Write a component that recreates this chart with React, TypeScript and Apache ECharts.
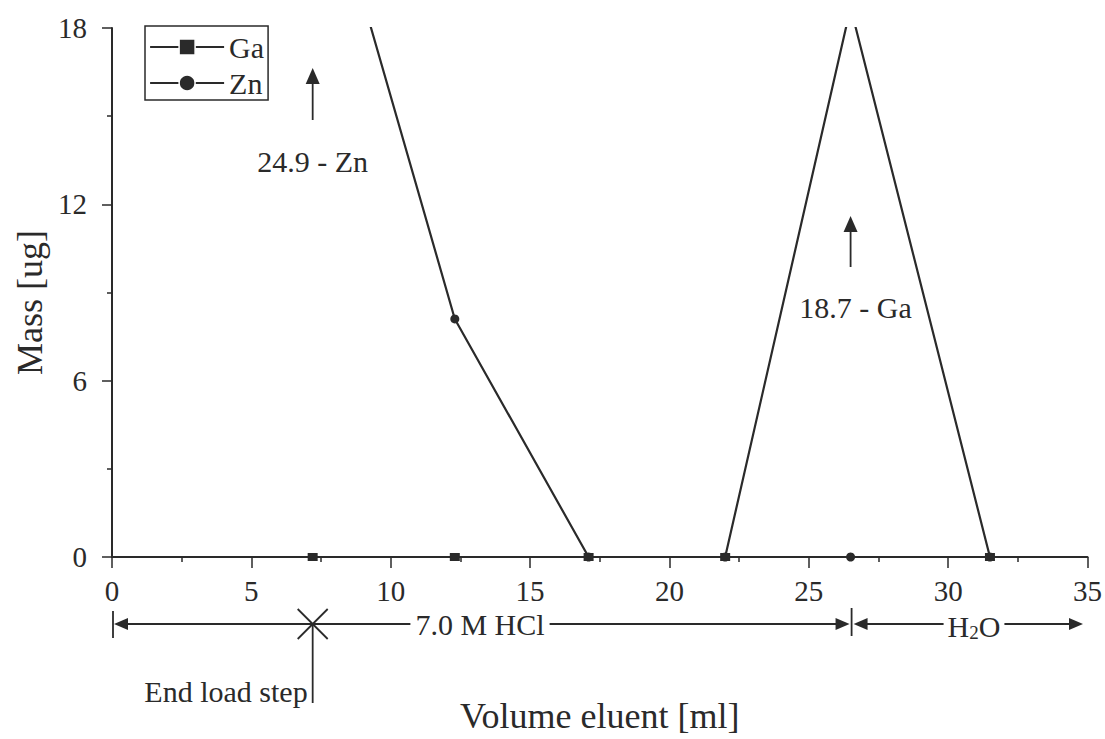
import React, { useEffect, useRef } from 'react';
import * as echarts from 'echarts';

// ---- data ----
const VOLUME_ML = [7.2, 12.3, 17.1, 22.0, 26.5, 31.5];
const GA_MASS = [0, 0, 0, 0, 18.7, 0];
const ZN_MASS = [24.9, 8.1, 0, 0, 0, 0];
const SERIES_NAMES = ['Ga', 'Zn'];

const X_MIN = 0;
const X_MAX = 35;
const X_STEP = 5;
const Y_MIN = 0;
const Y_MAX = 18;
const Y_STEP = 6;

const LOAD_END_ML = 7.2;
const HCL_END_ML = 26.5;
const ZN_PEAK_LABEL = '24.9 - Zn';
const GA_PEAK_LABEL = '18.7 - Ga';
const ZN_PEAK_X = 7.2;
const GA_PEAK_X = 26.5;

const INK = '#2a2a2a';
const FONT = '"Liberation Serif", "Times New Roman", Times, serif';

export default function App() {
  const ref = useRef<HTMLDivElement>(null);

  useEffect(() => {
    if (!ref.current) return;
    const chart = echarts.init(ref.current, undefined, { renderer: 'svg' });

    const option: any = {
      animation: false,
      backgroundColor: '#ffffff',
      grid: { left: 112, right: 16, top: 28, bottom: 178, containLabel: false },
      legend: {
        show: true,
        orient: 'vertical',
        left: 145,
        top: 26,
        data: SERIES_NAMES,
        itemWidth: 74,
        itemHeight: 20,
        itemGap: 6,
        padding: [6, 4, 2, 4],
        borderColor: INK,
        borderWidth: 1.5,
        backgroundColor: '#ffffff',
        lineStyle: { width: 2.2, color: INK },
        itemStyle: { color: INK, borderColor: '#ffffff', borderWidth: 1.5 },
        textStyle: { fontFamily: FONT, fontSize: 30, color: INK },
      },
      xAxis: {
        type: 'value',
        min: X_MIN,
        max: X_MAX,
        interval: X_STEP,
        name: 'Volume eluent [ml]',
        nameLocation: 'middle',
        nameGap: 141,
        nameTextStyle: { fontFamily: FONT, fontSize: 36, color: INK },
        axisLine: { show: true, onZero: false, lineStyle: { color: INK, width: 2 } },
        axisTick: { show: true, length: 11, lineStyle: { color: INK, width: 1.5 } },
        minorTick: { show: true, splitNumber: 2, length: 5, lineStyle: { color: INK, width: 1.5 } },
        axisLabel: { fontFamily: FONT, fontSize: 29, color: INK, margin: 19 },
        splitLine: { show: false },
      },
      yAxis: {
        type: 'value',
        min: Y_MIN,
        max: Y_MAX,
        interval: Y_STEP,
        axisLine: { show: true, onZero: false, lineStyle: { color: INK, width: 2 } },
        axisTick: { show: true, length: 10, lineStyle: { color: INK, width: 1.5 } },
        minorTick: { show: true, splitNumber: 2, length: 5, lineStyle: { color: INK, width: 1.5 } },
        axisLabel: { fontFamily: FONT, fontSize: 29, color: INK, margin: 25 },
        splitLine: { show: false },
      },
      series: [
        {
          type: 'line',
          name: SERIES_NAMES[0],
          data: VOLUME_ML.map((x, i) => [x, GA_MASS[i]]),
          symbol: 'rect',
          symbolSize: [10, 8],
          showAllSymbol: true,
          clip: true,
          lineStyle: { color: INK, width: 2.2 },
          itemStyle: { color: INK },
          z: 3,
        },
        {
          type: 'line',
          name: SERIES_NAMES[1],
          data: VOLUME_ML.map((x, i) => [x, ZN_MASS[i]]),
          symbol: 'circle',
          symbolSize: 9,
          showAllSymbol: true,
          clip: true,
          lineStyle: { color: INK, width: 2.2 },
          itemStyle: { color: INK },
          z: 2,
        },
      ],
    };
    chart.setOption(option);

    const px = (x: number, y: number) =>
      chart.convertToPixel({ xAxisIndex: 0, yAxisIndex: 0 }, [x, y]) as number[];
    const [x0, axisY] = px(X_MIN, Y_MIN);
    const yTop = px(X_MIN, Y_MAX)[1];
    const xLoad = px(LOAD_END_ML, 0)[0];
    const xHcl = px(HCL_END_ML, 0)[0];
    const xZn = px(ZN_PEAK_X, 0)[0];
    const xGa = px(GA_PEAK_X, 0)[0];
    const bandY = axisY + 67;
    const lineStyle = { stroke: INK, lineWidth: 1.8 };
    const headStyle = { fill: INK };

    const upArrow = (cx: number, tip: number, bottom: number) => [
      { type: 'line', shape: { x1: cx, y1: bottom, x2: cx, y2: tip + 12 }, style: lineStyle },
      { type: 'polygon', shape: { points: [[cx, tip], [cx - 7, tip + 16], [cx + 7, tip + 16]] }, style: headStyle },
    ];
    const headRight = (tx: number, y: number) => ({
      type: 'polygon', shape: { points: [[tx, y], [tx - 14, y - 6], [tx - 14, y + 6]] }, style: headStyle,
    });
    const headLeft = (tx: number, y: number) => ({
      type: 'polygon', shape: { points: [[tx, y], [tx + 14, y - 6], [tx + 14, y + 6]] }, style: headStyle,
    });
    const txt = (x: number, y: number, text: string, align = 'center', extra: any = {}) => ({
      type: 'text',
      x,
      y,
      z: 10,
      style: { text, fontFamily: FONT, fontSize: 30, fill: INK, align, verticalAlign: 'middle', ...extra },
    });
    const xEnd = 1083;

    const elements: any[] = [
      // y axis title
      {
        type: 'text',
        x: 30,
        y: (yTop + axisY) / 2 + 10,
        rotation: Math.PI / 2,
        z: 10,
        style: { text: 'Mass [ug]', fontFamily: FONT, fontSize: 36, fill: INK, align: 'center', verticalAlign: 'middle' },
      },
      ...upArrow(xZn, 68, 120),
      txt(xZn, 161, ZN_PEAK_LABEL),
      ...upArrow(xGa, 216, 267),
      txt(xGa + 5, 307, GA_PEAK_LABEL),
      // 7.0 M HCl band
      { type: 'line', shape: { x1: x0 + 1, y1: bandY - 13, x2: x0 + 1, y2: bandY + 14 }, style: lineStyle },
      headLeft(x0 + 2, bandY),
      { type: 'line', shape: { x1: x0 + 10, y1: bandY, x2: xHcl - 10, y2: bandY }, style: lineStyle },
      headRight(xHcl - 1, bandY),
      { type: 'line', shape: { x1: xHcl + 1, y1: bandY - 16, x2: xHcl + 1, y2: bandY + 12 }, style: lineStyle },
      headLeft(xHcl + 3, bandY),
      { type: 'line', shape: { x1: xHcl + 12, y1: bandY, x2: xEnd - 10, y2: bandY }, style: lineStyle },
      headRight(xEnd, bandY),
      txt(480, bandY, '7.0 M HCl', 'center', { backgroundColor: '#ffffff', padding: [0, 5] }),
      {
        type: 'text',
        x: 974,
        y: bandY + 2,
        z: 10,
        style: {
          text: '{n|H}{s|2}{n|O}',
          align: 'center',
          verticalAlign: 'middle',
          backgroundColor: '#ffffff',
          padding: [0, 4],
          rich: {
            n: { fontFamily: FONT, fontSize: 30, fill: INK, color: INK, lineHeight: 32 },
            s: { fontFamily: FONT, fontSize: 19, fill: INK, color: INK, lineHeight: 32, verticalAlign: 'bottom', padding: [14, 0, 0, 0] },
          },
        },
      },
      // end of load step marker
      { type: 'line', shape: { x1: xLoad - 15, y1: bandY - 15, x2: xLoad + 15, y2: bandY + 15 }, style: lineStyle },
      { type: 'line', shape: { x1: xLoad - 15, y1: bandY + 15, x2: xLoad + 15, y2: bandY - 15 }, style: lineStyle },
      { type: 'line', shape: { x1: xLoad, y1: bandY, x2: xLoad, y2: axisY + 146 }, style: lineStyle },
      txt(xLoad - 5, axisY + 134, 'End load step', 'right', { fontSize: 30 }),
    ];
    chart.setOption({ graphic: { elements } });

    return () => chart.dispose();
  }, []);

  return (
    <div
      ref={ref}
      style={{ position: 'fixed', left: 0, top: 0, width: 1105, height: 739, background: '#fff' }}
    />
  );
}
